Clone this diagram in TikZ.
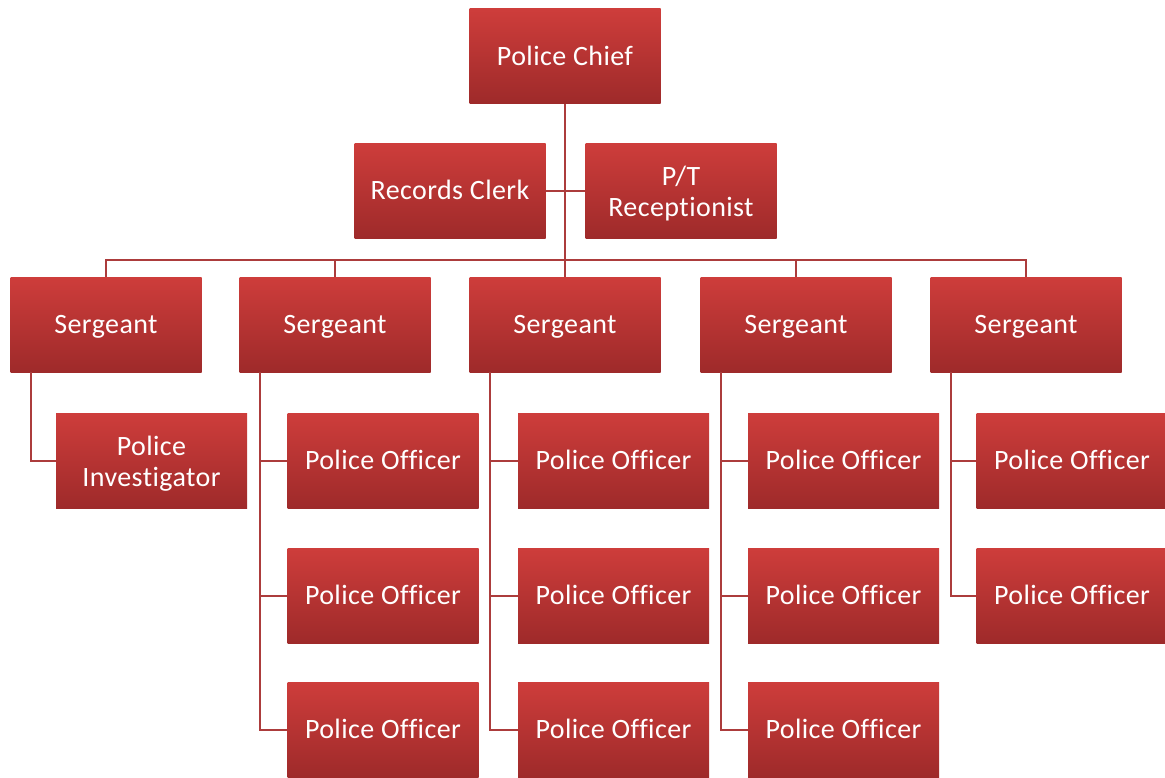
\documentclass[tikz,border=0pt]{standalone}
\usepackage{fontspec}
\setmainfont{Carlito}[Ligatures=NoCommon,LetterSpace=1.5]
\definecolor{boxtop}{RGB}{206,61,59}
\definecolor{boxbot}{RGB}{158,42,42}
\definecolor{linecol}{RGB}{172,60,60}
\tikzset{
  orgbox/.style={draw=none, top color=boxtop, bottom color=boxbot, minimum width=191pt, minimum height=95pt, inner sep=0pt},
  lbl/.style={text=white, align=center, inner sep=0pt, yshift=-3pt, font=\fontsize{28}{31}\selectfont},
  lbla/.style={lbl, text height=18.5pt, text depth=5.7pt},
  conn/.style={draw=linecol, line width=2pt}
}
\begin{document}
\begin{tikzpicture}[x=1pt,y=-1pt]
\useasboundingbox (0,0) rectangle (1165,777);
\node[orgbox, label={[lbla]center:Police Chief}] (chief) at (565,56) {};
\node[orgbox, label={[lbla]center:Records Clerk}] (clerk) at (450,190.5) {};
\node[orgbox, label={[lbl]center:P/T\\Receptionist}] (recep) at (681,190.5) {};
\node[orgbox, label={[lbla]center:Sergeant}] (s1) at (106,324.5) {};
\node[orgbox, label={[lbla]center:Sergeant}] (s2) at (335,324.5) {};
\node[orgbox, label={[lbla]center:Sergeant}] (s3) at (565,324.5) {};
\node[orgbox, label={[lbla]center:Sergeant}] (s4) at (796,324.5) {};
\node[orgbox, label={[lbla]center:Sergeant}] (s5) at (1026,324.5) {};
\node[orgbox, label={[lbl]center:Police\\Investigator}] (inv) at (151.5,460.5) {};
\node[orgbox, label={[lbla]center:Police Officer}] (o21) at (383,460.5) {};
\node[orgbox, label={[lbla]center:Police Officer}] (o22) at (383,595.5) {};
\node[orgbox, label={[lbla]center:Police Officer}] (o23) at (383,729.5) {};
\node[orgbox, label={[lbla]center:Police Officer}] (o31) at (613.5,460.5) {};
\node[orgbox, label={[lbla]center:Police Officer}] (o32) at (613.5,595.5) {};
\node[orgbox, label={[lbla]center:Police Officer}] (o33) at (613.5,729.5) {};
\node[orgbox, label={[lbla]center:Police Officer}] (o41) at (843.5,460.5) {};
\node[orgbox, label={[lbla]center:Police Officer}] (o42) at (843.5,595.5) {};
\node[orgbox, label={[lbla]center:Police Officer}] (o43) at (843.5,729.5) {};
\node[orgbox, label={[lbla]center:Police Officer}] (o51) at (1072,460.5) {};
\node[orgbox, label={[lbla]center:Police Officer}] (o52) at (1072,595.5) {};
\coordinate (bus) at (565,260);
\draw[conn] (chief.south) -- (bus);
\draw[conn] (clerk.east) -- (recep.west);
\foreach \s in {s1,s2,s3,s4,s5} { \draw[conn] (bus) -| (\s.north); }
\draw[conn] ([xshift=21pt]s1.south west) |- (inv.west);
\foreach \s/\a/\b/\c in {s2/o21/o22/o23, s3/o31/o32/o33, s4/o41/o42/o43} {
  \draw[conn] ([xshift=21pt]\s.south west) |- (\c.west);
  \draw[conn] ([xshift=21pt]\s.south west) |- (\a.west);
  \draw[conn] ([xshift=21pt]\s.south west) |- (\b.west);
}
\draw[conn] ([xshift=21pt]s5.south west) |- (o52.west);
\draw[conn] ([xshift=21pt]s5.south west) |- (o51.west);
\end{tikzpicture}
\end{document}
